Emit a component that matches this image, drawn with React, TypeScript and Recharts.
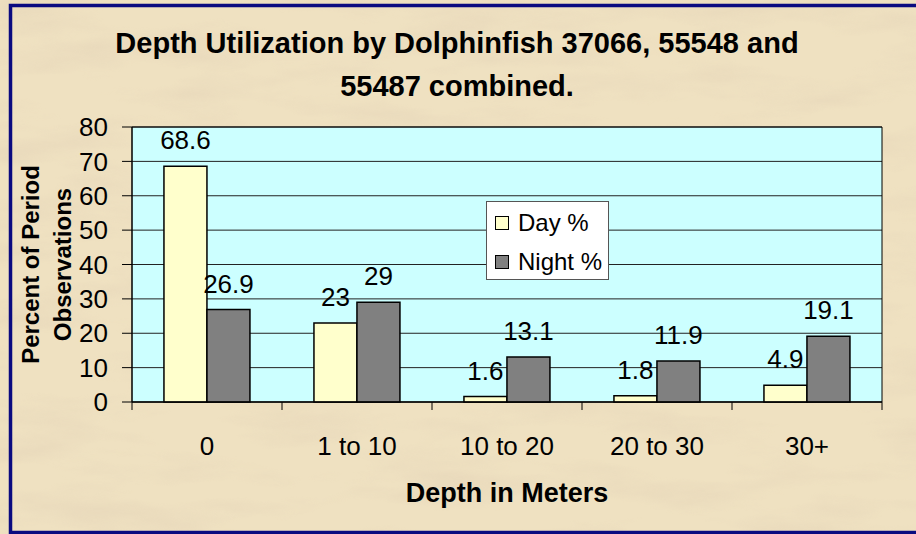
import React from "react";
import {
  Bar,
  BarChart,
  CartesianGrid,
  LabelList,
  Legend,
  ReferenceArea,
  XAxis,
  YAxis,
} from "recharts";

const depthBins = ["0", "1 to 10", "10 to 20", "20 to 30", "30+"];
const dayPct = [68.6, 23, 1.6, 1.8, 4.9];
const nightPct = [26.9, 29, 13.1, 11.9, 19.1];
const yTicks = [0, 10, 20, 30, 40, 50, 60, 70, 80];

const data = depthBins.map((depth, i) => ({ depth, day: dayPct[i], night: nightPct[i] }));

const FONT = '"Liberation Sans", Arial, sans-serif';
const W = 916;
const H = 534;

function DepthTick(props: any) {
  const { x, y, payload, index, width, visibleTicksCount } = props;
  const band = (width || 750) / (visibleTicksCount || 5);
  const last = index === visibleTicksCount - 1;
  return (
    <g>
      <line x1={x - band / 2} x2={x - band / 2} y1={y} y2={y + 8} stroke="#000" />
      {last && <line x1={x + band / 2} x2={x + band / 2} y1={y} y2={y + 8} stroke="#000" />}
      <text x={x} y={y + 53} textAnchor="middle" fontSize={26} fontFamily={FONT} fill="#000">
        {payload.value}
      </text>
    </g>
  );
}

function YTitle({ viewBox }: any) {
  const cy = viewBox.y + viewBox.height / 2;
  const x1 = viewBox.x + 18;
  const x2 = viewBox.x + 50;
  const common = {
    fontSize: 24,
    fontWeight: 700,
    fontFamily: FONT,
    fill: "#000",
    textAnchor: "middle" as const,
    dominantBaseline: "central" as const,
  };
  return (
    <g>
      <text x={x1} y={cy} transform={`rotate(-90, ${x1}, ${cy})`} {...common}>
        Percent of Period
      </text>
      <text x={x2} y={cy} transform={`rotate(-90, ${x2}, ${cy})`} {...common}>
        Observations
      </text>
    </g>
  );
}

function XTitle({ viewBox }: any) {
  return (
    <text
      x={viewBox.x + viewBox.width / 2}
      y={viewBox.y + 100}
      textAnchor="middle"
      fontSize={27}
      fontWeight={700}
      fontFamily={FONT}
      fill="#000"
    >
      Depth in Meters
    </text>
  );
}

function LegendBox() {
  const row = (label: string, color: string) => (
    <div style={{ display: "flex", alignItems: "center", height: 39, paddingLeft: 8 }}>
      <span
        style={{
          width: 14,
          height: 14,
          boxSizing: "border-box",
          border: "1.5px solid #000",
          background: color,
          marginRight: 9,
        }}
      />
      <span>{label}</span>
    </div>
  );
  return (
    <div
      style={{
        boxSizing: "border-box",
        width: 123,
        height: 79,
        background: "#fff",
        border: "1px solid #555",
        fontFamily: FONT,
        fontSize: 24,
        color: "#000",
        paddingTop: 1,
      }}
    >
      {row("Day %", "#FFFFCC")}
      {row("Night %", "#808080")}
    </div>
  );
}

export default function App() {
  return (
    <div style={{ position: "absolute", left: 0, top: 0, width: W, height: H, overflow: "hidden" }}>
      <svg width={W} height={H} style={{ position: "absolute", left: 0, top: 0 }}>
        <defs>
          <filter id="paper" x="0" y="0" width="100%" height="100%">
            <feTurbulence type="fractalNoise" baseFrequency="0.008 0.03" numOctaves={4} seed={11} />
            <feColorMatrix
              type="matrix"
              values="0 0 0 0 0.78  0 0 0 0 0.66  0 0 0 0 0.48  1.8 0 0 0 -0.8"
            />
          </filter>
        </defs>
        <rect x={0} y={0} width={W} height={H} fill="#EFE1C1" />
        <rect x={0} y={0} width={W} height={H} filter="url(#paper)" opacity={0.7} />
        <rect x={10.5} y={5.5} width={W + 20} height={527} fill="none" stroke="#0A0A80" strokeWidth={3.5} />
        <text x={457} y={53} textAnchor="middle" fontSize={29} fontWeight={700} fontFamily={FONT} fill="#000">
          Depth Utilization by Dolphinfish 37066, 55548 and
        </text>
        <text x={457} y={96} textAnchor="middle" fontSize={29} fontWeight={700} fontFamily={FONT} fill="#000">
          55487 combined.
        </text>
      </svg>
      <div style={{ position: "absolute", left: 0, top: 0 }}>
        <BarChart
          width={W}
          height={H}
          data={data}
          margin={{ top: 127, right: 34, bottom: 32, left: 12 }}
          barCategoryGap="21.3%"
          barGap={0}
        >
          <CartesianGrid horizontal vertical={false} fill="#CCFFFF" fillOpacity={1} stroke="#222" />
          <XAxis
            dataKey="depth"
            height={100}
            axisLine={{ stroke: "#000" }}
            tickLine={false}
            tickSize={0}
            tickMargin={0}
            interval={0}
            tick={<DepthTick />}
            label={<XTitle />}
          />
          <YAxis
            width={120}
            domain={[0, 80]}
            ticks={yTicks}
            interval={0}
            axisLine={{ stroke: "#000" }}
            tickLine={{ stroke: "#000" }}
            tickSize={10}
            tickMargin={14}
            tick={{ fontSize: 26, fill: "#000", fontFamily: FONT }}
            label={<YTitle />}
          />
          <ReferenceArea y1={0} y2={80} fill="none" stroke="#000" strokeWidth={1} ifOverflow="visible" />
          <Legend
            layout="vertical"
            align="center"
            verticalAlign="middle"
            content={<LegendBox />}
            wrapperStyle={{ left: 486, top: 201, width: 123, height: 79 }}
          />
          <Bar dataKey="day" name="Day %" fill="#FFFFCC" stroke="#000" strokeWidth={1.5} isAnimationActive={false}>
            <LabelList dataKey="day" position="top" offset={17} fontSize={26} fill="#000" fontFamily={FONT} />
          </Bar>
          <Bar dataKey="night" name="Night %" fill="#808080" stroke="#000" strokeWidth={1.5} isAnimationActive={false}>
            <LabelList dataKey="night" position="top" offset={17} fontSize={26} fill="#000" fontFamily={FONT} />
          </Bar>
        </BarChart>
      </div>
    </div>
  );
}
